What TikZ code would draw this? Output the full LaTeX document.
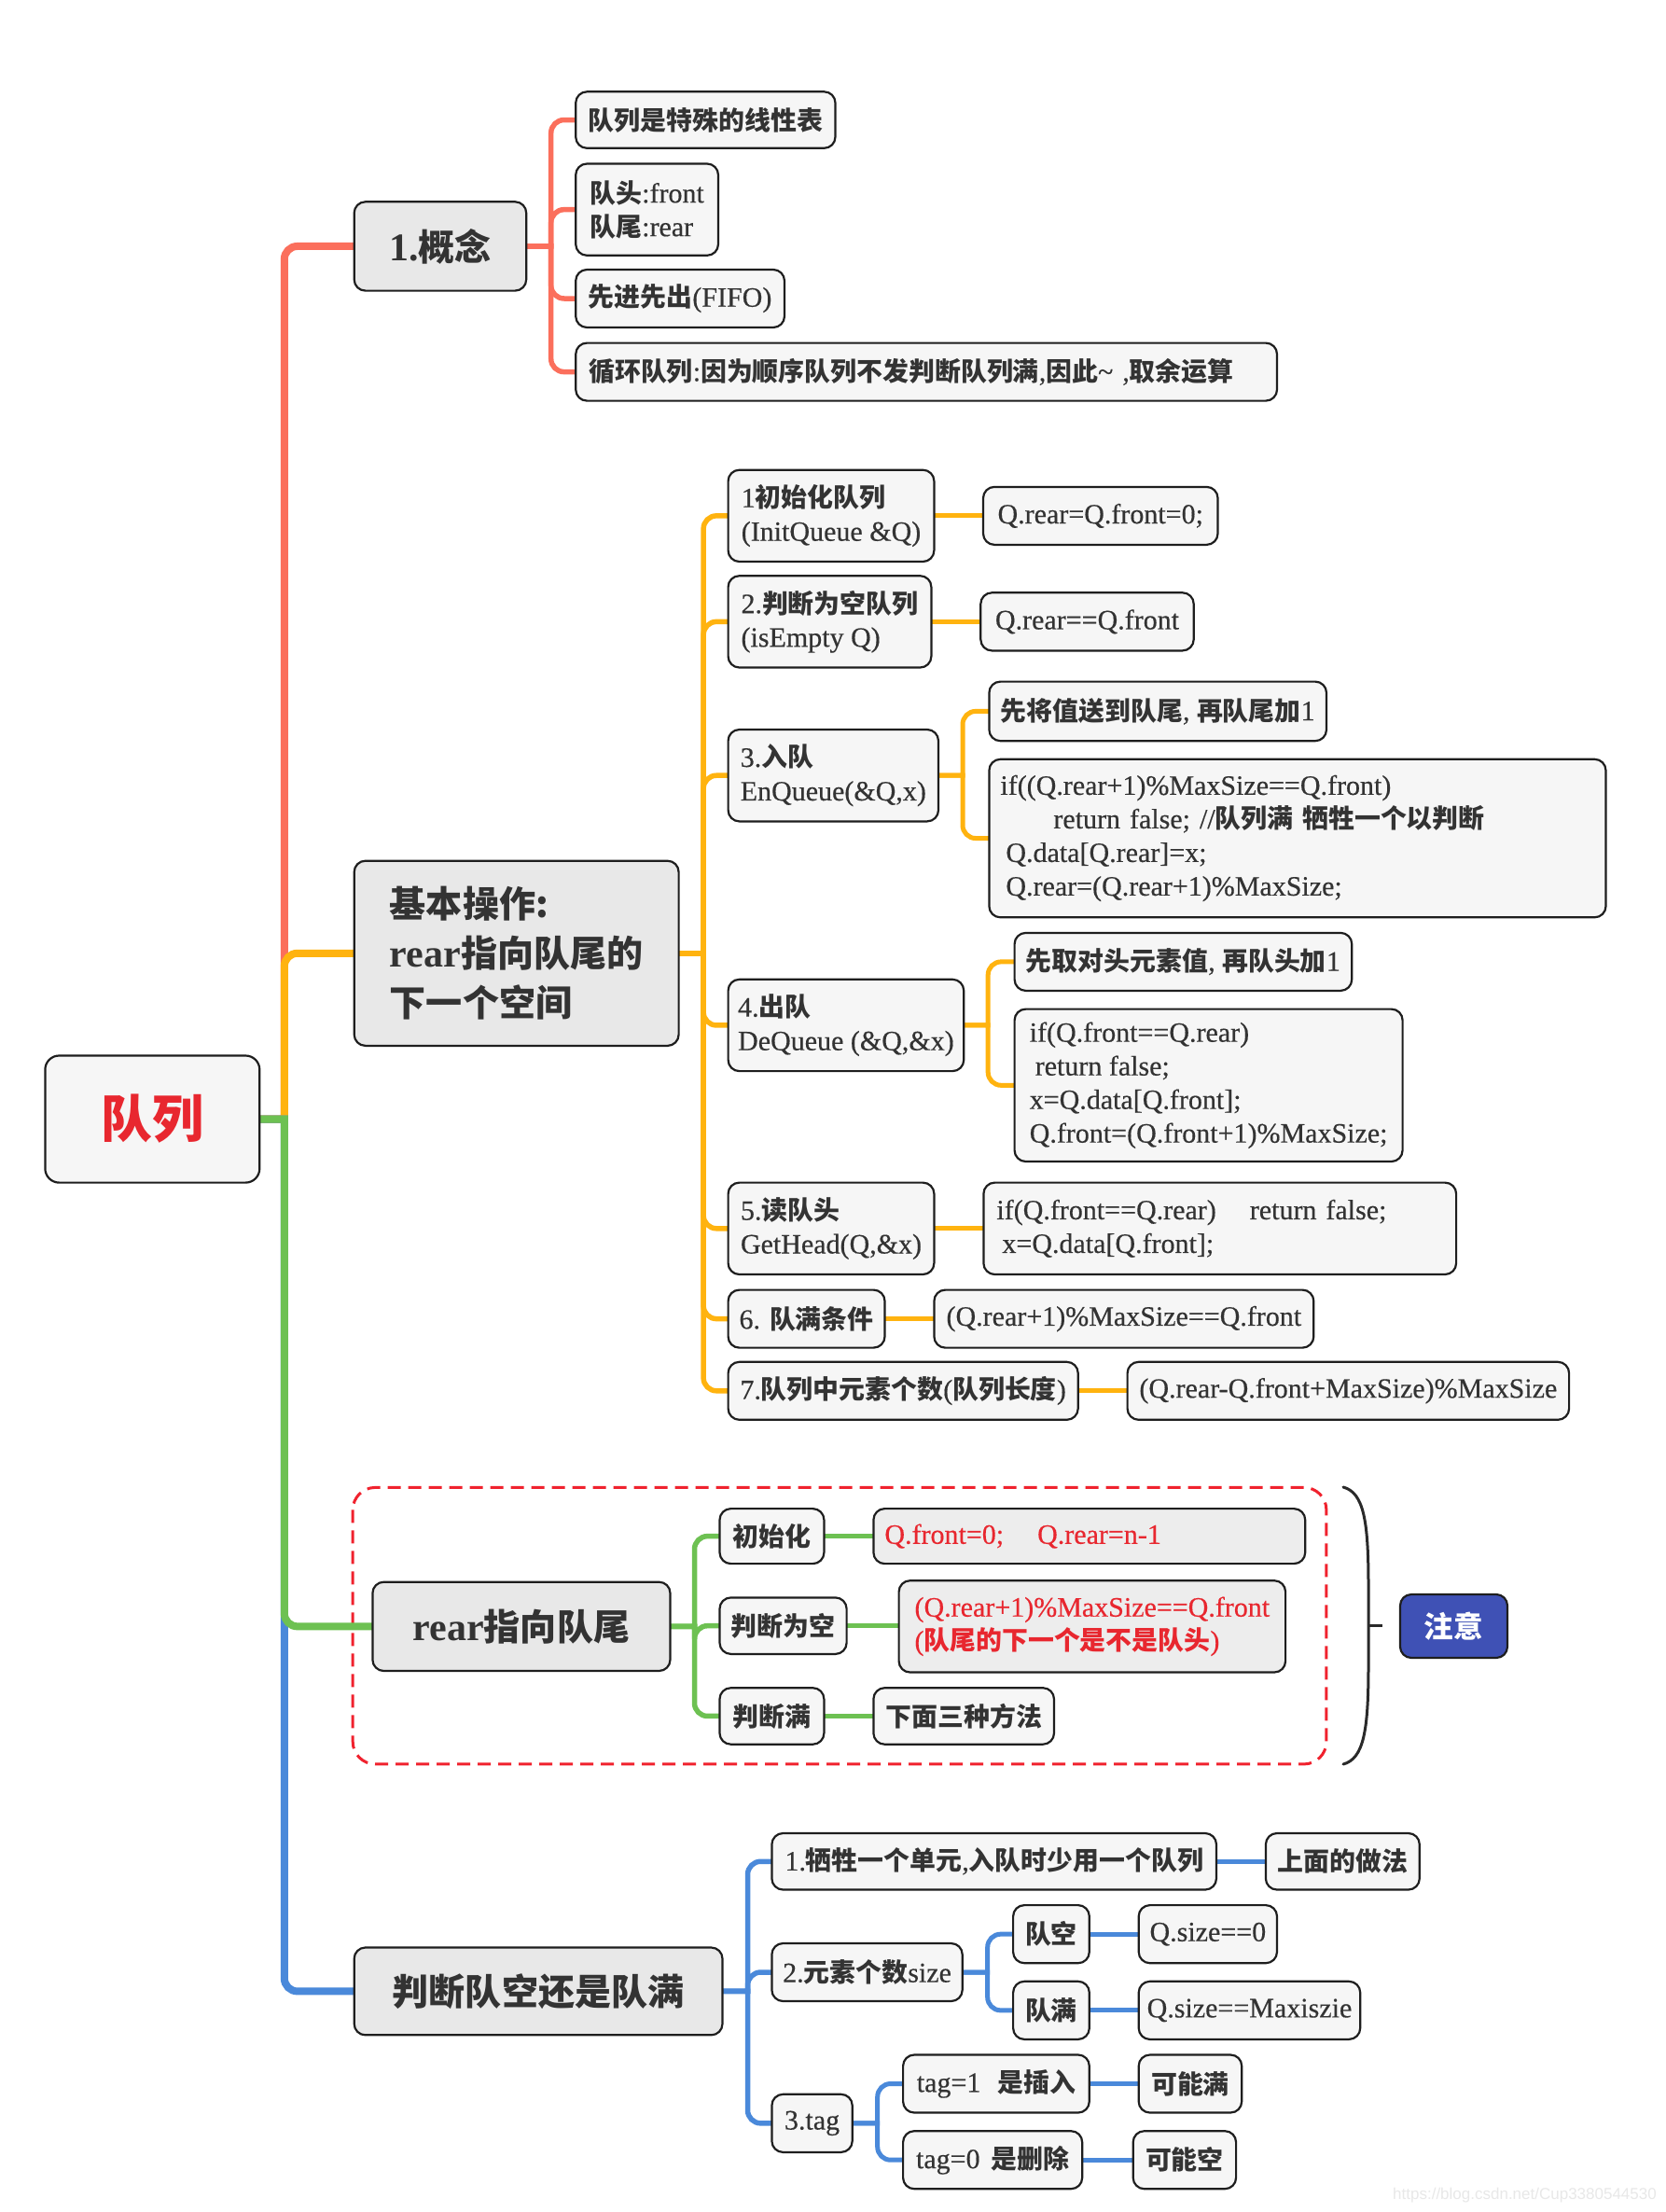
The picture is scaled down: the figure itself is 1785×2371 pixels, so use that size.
\documentclass[tikz,border=0pt]{standalone}
\usepackage{fontspec}
\setmainfont{Liberation Serif}[UprightFeatures={FakeBold=0.4}]
\newfontfamily\cjk{Noto Sans CJK SC}[Scale=0.93]
\newfontfamily\wmfont{Liberation Sans}
\newcommand\z[1]{{\cjk\bfseries #1}}
\definecolor{txt}{HTML}{333333}
\definecolor{bord}{HTML}{1E1E1E}
\definecolor{subfill}{HTML}{F6F6F6}
\definecolor{topfill}{HTML}{E8E8E8}
\definecolor{hlfill}{HTML}{EDEDED}
\definecolor{cred}{HTML}{FB6F5C}
\definecolor{corange}{HTML}{FFB30F}
\definecolor{cgreen}{HTML}{6DC152}
\definecolor{cblue}{HTML}{4A89DA}
\definecolor{alert}{HTML}{E8272F}
\definecolor{dashred}{HTML}{F0222E}
\definecolor{note}{HTML}{3F51B5}
\definecolor{brace}{HTML}{2A2A2A}
\pgfdeclarelayer{bg}
\pgfsetlayers{bg,main}
\tikzset{
  mmbox/.style={draw=bord, line width=2.2pt, rounded corners=12pt, outer sep=0pt, inner sep=0pt, text=txt, align=left},
  mmsub/.style={mmbox, fill=subfill, font=\fontsize{30}{36}\selectfont},
  mmhl/.style={mmsub, fill=hlfill, text=alert},
  mmtop/.style={mmbox, fill=topfill, font=\fontsize{42}{53}\selectfont\bfseries},
  mmroot/.style={mmbox, fill=subfill, rounded corners=15pt, text=alert, font=\fontsize{59}{59}\selectfont},
  mmnote/.style={mmbox, fill=note, text=white, font=\fontsize{34}{34}\selectfont},
  lpad/.code={\pgfmathsetmacro\bxtw{\bxw-2*#1}\tikzset{text width=\bxtw pt}},
  lkroot/.style={line width=8pt},
  lktop/.style={line width=5.5pt},
  lk/.style={line width=5pt},
}
% box: name, x1, y1, x2, y2, style, text
\newcommand\bx[7]{\pgfmathsetmacro\bxw{#4-#2}\pgfmathsetmacro\bxh{#5-#3}%
  \node[#6,minimum width=\bxw pt,minimum height=\bxh pt,anchor=north west] (#1) at (#2,#3) {#7};}
% branching connector: style, parent, child, dx
\newcommand\lkb[4]{\draw[#1] (#2.east) -- ++(#4,0) [rounded corners=14pt] |- (#3.west);}
% straight connector: style, parent, child
\newcommand\lks[3]{\draw[#1] (#2.east) -- (#2.east -| #3.west);}
\begin{document}
\begin{tikzpicture}[x=1pt,y=-1pt]
\begin{pgfonlayer}{bg}
\fill[white] (0,0) rectangle (1785,2371);
\end{pgfonlayer}
\useasboundingbox (0,0) rectangle (1785,2371);

% root
\bx{root}{48.4}{1131.5}{278.3}{1267.6}{mmroot}{\z{队列}}

% 1. concept
\bx{k1}{379.7}{216.3}{564.2}{311.6}{mmtop}{1.\z{概念}}
\bx{c1}{617.2}{98.3}{895.5}{158.8}{mmsub}{\z{队列是特殊的线性表}}
\bx{c2}{617.2}{175.5}{770}{273.8}{mmsub}{\z{队头}:front\\\z{队尾}:rear}
\bx{c3}{617.2}{289}{841}{351}{mmsub}{\z{先进先出}(FIFO)}
\bx{c4}{617.2}{367.6}{1369}{429.6}{mmsub,lpad=14}{\z{循环队列}:\z{因为顺序队列不发判断队列满},\z{因此}\textasciitilde{} ,\z{取余运算}}

% 2. basic operations
\bx{k2}{379.7}{922.7}{727.6}{1120.9}{mmtop}{\z{基本操作:}\\rear\z{指向队尾的}\\\z{下一个空间}}
\bx{b1}{780.6}{503.7}{1001.4}{602}{mmsub}{1\z{初始化队列}\\(InitQueue \&Q)}
\bx{r1}{1054}{521.9}{1305.5}{583.9}{mmsub}{Q.rear=Q.front=0;}
\bx{b2}{780.6}{617.2}{998.4}{715.5}{mmsub}{2.\z{判断为空队列}\\(isEmpty Q)}
\bx{r2}{1051.3}{635.3}{1279.7}{697.4}{mmsub}{Q.rear==Q.front}
\bx{b3}{780.6}{782}{1006}{880.4}{mmsub}{3.\z{入队}\\EnQueue(\&Q,x)}
\bx{r3a}{1060.4}{730.6}{1422}{794.2}{mmsub}{\z{先将值送到队尾}, \z{再队尾加}1}
\bx{r3b}{1060.4}{813.8}{1721.5}{983.3}{mmsub,lpad=12}{if((Q.rear+1)\%MaxSize==Q.front)\\\hspace*{57pt}return false; //\z{队列满 牺牲一个以判断}\\\hspace*{6pt}Q.data[Q.rear]=x;\\\hspace*{6pt}Q.rear=(Q.rear+1)\%MaxSize;}
\bx{b4}{780.6}{1049.8}{1033.2}{1148.1}{mmsub}{4.\z{出队}\\DeQueue (\&Q,\&x)}
\bx{r4a}{1087.6}{999.9}{1449.2}{1061.9}{mmsub}{\z{先取对头元素值}, \z{再队头加}1}
\bx{r4b}{1087.6}{1081.6}{1503.6}{1245}{mmsub}{if(Q.front==Q.rear)\\\hspace*{6pt}return false;\\x=Q.data[Q.front];\\Q.front=(Q.front+1)\%MaxSize;}
\bx{b5}{780.6}{1267.6}{1001.4}{1366}{mmsub}{5.\z{读队头}\\GetHead(Q,\&x)}
\bx{r5}{1054.4}{1267.6}{1561.1}{1366}{mmsub,lpad=14}{if(Q.front==Q.rear)\hspace{36pt}return false;\\\hspace*{6pt}x=Q.data[Q.front];}
\bx{b6}{780.6}{1382.6}{948.5}{1444.6}{mmsub}{6. \z{队满条件}}
\bx{r6}{1001.4}{1382.6}{1408.3}{1444.6}{mmsub}{(Q.rear+1)\%MaxSize==Q.front}
\bx{b7}{780.6}{1459.8}{1155.7}{1521.8}{mmsub}{7.\z{队列中元素个数}(\z{队列长度})}
\bx{r7}{1208.6}{1459.8}{1682.1}{1521.8}{mmsub}{(Q.rear-Q.front+MaxSize)\%MaxSize}

% 3. rear points at tail
\bx{k3}{399.4}{1695.7}{718.5}{1791}{mmtop}{rear\z{指向队尾}}
\bx{g1}{771.5}{1617.1}{883.4}{1676.1}{mmsub}{\z{初始化}}
\bx{g1r}{936.4}{1617.1}{1399.2}{1676.1}{mmhl,lpad=12}{Q.front=0;\hspace{36pt}Q.rear=n-1}
\bx{g2}{771.5}{1712.4}{907.6}{1772.9}{mmsub}{\z{判断为空}}
\bx{g2r}{963.6}{1694.2}{1378.1}{1792.5}{mmhl}{(Q.rear+1)\%MaxSize==Q.front\\(\z{队尾的下一个是不是队头})}
\bx{g3}{771.5}{1809.2}{883.4}{1869.7}{mmsub}{\z{判断满}}
\bx{g3r}{936.4}{1809.2}{1130}{1869.7}{mmsub}{\z{下面三种方法}}
\bx{nt}{1501}{1709}{1616}{1777}{mmnote}{\z{注意}}

% 4. empty or full
\bx{k4}{379.7}{2087.5}{774.5}{2181.3}{mmtop}{\z{判断队空还是队满}}
\bx{l1}{827.4}{1965}{1304}{2025.5}{mmsub}{1.\z{牺牲一个单元},\z{入队时少用一个队列}}
\bx{l1r}{1356.9}{1965}{1521.8}{2025.5}{mmsub}{\z{上面的做法}}
\bx{l2}{827.4}{2083}{1031.7}{2145}{mmsub}{2.\z{元素个数}size}
\bx{l2a}{1086.1}{2042.1}{1167.8}{2104.2}{mmsub}{\z{队空}}
\bx{l2ar}{1220.7}{2042.1}{1369}{2104.2}{mmsub}{Q.size==0}
\bx{l2b}{1086.1}{2123.8}{1167.8}{2185.9}{mmsub}{\z{队满}}
\bx{l2br}{1220.7}{2123.8}{1458.2}{2185.9}{mmsub}{Q.size==Maxiszie}
\bx{l3}{827.4}{2244.8}{913.7}{2306.9}{mmsub}{3.tag}
\bx{l3a}{968.1}{2202.5}{1167.8}{2264.5}{mmsub}{tag=1\hspace{18pt}\z{是插入}}
\bx{l3ar}{1220.7}{2202.5}{1331.2}{2264.5}{mmsub}{\z{可能满}}
\bx{l3b}{968.1}{2284.2}{1160.2}{2346.2}{mmsub}{tag=0\hspace{12pt}\z{是删除}}
\bx{l3br}{1214.7}{2284.2}{1325.1}{2346.2}{mmsub}{\z{可能空}}

% brace
\coordinate (bt) at (1440,1594);
\coordinate (bb) at (1440,1891);
\coordinate (bm) at (1467,1742);
\coordinate (bk) at (1482,1742);
\draw[brace, line width=3pt, line cap=round] (bt) .. controls (1462,1600) and (1467,1630) .. (1467,1700) -- (1467,1785) .. controls (1467,1855) and (1462,1885) .. (bb);
\draw[brace, line width=3pt] (bm) -- (bk);

% watermark
\node[font=\wmfont\fontsize{17}{17}\selectfont, text=black!9, anchor=base east, inner sep=0pt] (wm) at (1776,2357) {https://blog.csdn.net/Cup3380544530};

\begin{pgfonlayer}{bg}
  \draw[dashred, line width=3pt, dash pattern=on 14pt off 8pt, rounded corners=24pt] (378.2,1594.4) rectangle (1421.9,1890.9);
  % root branches
  \lkb{lkroot,cred}{root}{k1}{26.5}
  \lkb{lkroot,corange}{root}{k2}{26.5}
  \lkb{lkroot,cblue}{root}{k4}{26.5}
  \lkb{lkroot,cgreen}{root}{k3}{26.5}
  % concept
  \foreach \c in {c1,c2,c3,c4}{\lkb{lktop,cred}{k1}{\c}{26.5}}
  % basic operations
  \foreach \c in {b1,b2,b3,b4,b5,b6,b7}{\lkb{lktop,corange}{k2}{\c}{26.5}}
  \lks{lk,corange}{b1}{r1}
  \lks{lk,corange}{b2}{r2}
  \lkb{lk,corange}{b3}{r3a}{26}
  \lkb{lk,corange}{b3}{r3b}{26}
  \lkb{lk,corange}{b4}{r4a}{26}
  \lkb{lk,corange}{b4}{r4b}{26}
  \lks{lk,corange}{b5}{r5}
  \lks{lk,corange}{b6}{r6}
  \lks{lk,corange}{b7}{r7}
  % rear points at tail
  \foreach \c in {g1,g2,g3}{\lkb{lktop,cgreen}{k3}{\c}{26}}
  \lks{lk,cgreen}{g1}{g1r}
  \lks{lk,cgreen}{g2}{g2r}
  \lks{lk,cgreen}{g3}{g3r}
  % empty or full
  \foreach \c in {l1,l2,l3}{\lkb{lktop,cblue}{k4}{\c}{27}}
  \lks{lk,cblue}{l1}{l1r}
  \lkb{lk,cblue}{l2}{l2a}{27}
  \lkb{lk,cblue}{l2}{l2b}{27}
  \lks{lk,cblue}{l2a}{l2ar}
  \lks{lk,cblue}{l2b}{l2br}
  \lkb{lk,cblue}{l3}{l3a}{27}
  \lkb{lk,cblue}{l3}{l3b}{27}
  \lks{lk,cblue}{l3a}{l3ar}
  \lks{lk,cblue}{l3b}{l3br}
\end{pgfonlayer}
\end{tikzpicture}
\end{document}
